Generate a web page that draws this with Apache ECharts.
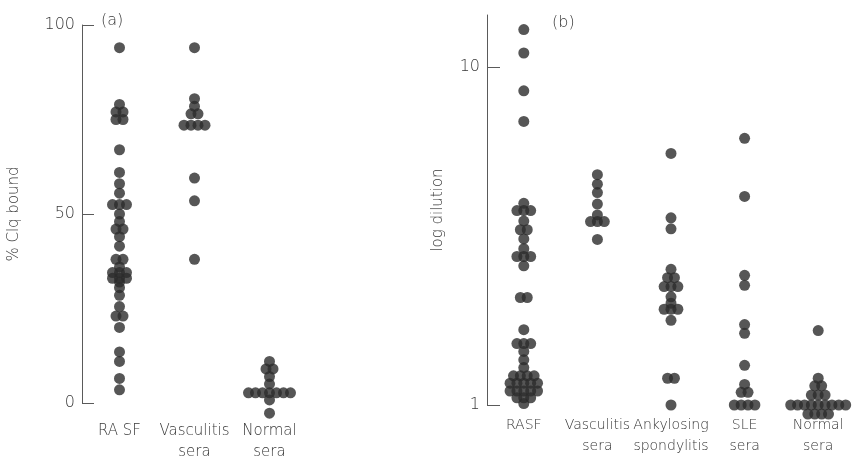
<!DOCTYPE html>
<html>
<head>
<meta charset="utf-8">
<script src="https://cdn.jsdelivr.net/npm/echarts@6/dist/echarts.min.js"></script>
<style>html,body{margin:0;padding:0;background:#fff}#c{width:855px;height:463px}</style>
</head>
<body>
<div id="c"></div>
<script>
// ---- Panel (a): % C1q bound ----
const catsA = ['RA SF', 'Vasculitis\nsera', 'Normal\nsera'];
const rasfA = [94, 79, 77, 77, 75, 75, 67, 61, 58, 55.5, 52.5, 52.5, 52.5, 50, 48, 46, 46, 44, 41.5,
  38, 38, 36, 34.5, 34.5, 34.5, 33, 33, 33, 32, 30.5, 28.5, 25.5, 23, 23, 20, 13.5, 11, 6.5, 3.5];
const vascA = [94, 80.5, 78.5, 76.5, 76.5, 73.5, 73.5, 73.5, 73.5, 59.5, 53.5, 38];
const normA = [11, 9, 9, 7, 5, 2.7, 2.7, 2.7, 2.7, 2.7, 2.7, 2.7, 0.8, -2.7];
const ticksA = [0, 50, 100];

// ---- Panel (b): log dilution ----
const catsB = ['RASF', 'Vasculitis\nsera', 'Ankylosing\nspondylitis', 'SLE\nsera', 'Normal\nsera'];
const rasfB = [12.9, 11.0, 8.5, 6.9, 3.95, 3.76, 3.76, 3.76, 3.5, 3.3, 3.3, 3.1, 2.9, 2.75, 2.75, 2.75, 2.58,
  2.08, 2.08, 1.67, 1.52, 1.52, 1.52, 1.44, 1.36, 1.29, 1.22, 1.22, 1.22, 1.22,
  1.16, 1.16, 1.16, 1.16, 1.16, 1.1, 1.1, 1.1, 1.1, 1.1, 1.05, 1.05, 1.05, 1.01];
const vascB = [4.8, 4.5, 4.25, 3.93, 3.65, 3.49, 3.49, 3.49, 3.09];
const ankB = [5.55, 3.58, 3.32, 2.52, 2.38, 2.38, 2.24, 2.24, 2.24, 2.09, 2.0, 1.92, 1.92, 1.92, 1.78, 1.2, 1.2, 1.0];
const sleB = [6.15, 4.14, 2.42, 2.26, 1.73, 1.63, 1.31, 1.15, 1.09, 1.09, 1.0, 1.0, 1.0, 1.0];
const normB = [1.66, 1.2, 1.14, 1.14, 1.07, 1.07, 1.07, 1.0, 1.0, 1.0, 1.0, 1.0, 1.0, 1.0, 1.0, 1.0,
  0.94, 0.94, 0.94, 0.94];
const ticksB = [1, 10];

const BAND = 75, STEP = 7, DOT = 11;
const FONT = '"DejaVu Sans", sans-serif';
const FW = 200;
const TXT = '#383838', DOTC = '#2c2c2c', LINE = '#5a5a5a';

// equal values are laid out as a centred horizontal row (dot-plot layout)
function swarm(values, cat) {
  const counts = new Map();
  values.forEach(v => counts.set(v, (counts.get(v) || 0) + 1));
  const out = [];
  counts.forEach((n, v) => {
    for (let i = 0; i < n; i++) out.push([cat + (i - (n - 1) / 2) * STEP / BAND, v]);
  });
  return out;
}

function dots(values, cat, xi, yi) {
  return {
    type: 'scatter', xAxisIndex: xi, yAxisIndex: yi, data: swarm(values, cat),
    symbol: 'circle', symbolSize: DOT, itemStyle: { color: DOTC }, clip: false, silent: true
  };
}

const catAxis = (grid, data, margin, size) => ({
  type: 'category', gridIndex: grid, data: data, boundaryGap: true,
  axisLine: { show: false }, axisTick: { show: false }, splitLine: { show: false },
  axisLabel: { margin: margin, fontSize: size, lineHeight: 21, color: TXT, fontFamily: FONT, fontWeight: FW, interval: 0 }
});

const chart = echarts.init(document.getElementById('c'), null, { renderer: 'canvas' });
chart.setOption({
  animation: false,
  backgroundColor: '#fff',
  title: [
    { text: '(a)', left: 96, top: 8, textStyle: { fontSize: 16, fontWeight: FW, color: TXT, fontFamily: FONT } },
    { text: '(b)', left: 547, top: 10, textStyle: { fontSize: 16, fontWeight: FW, color: TXT, fontFamily: FONT } }
  ],
  grid: [
    { left: 82, top: 25, width: 225, height: 378 },
    { left: 487, top: 15, width: 375, height: 390 }
  ],
  xAxis: [
    catAxis(0, catsA, 18, 15),
    { type: 'value', gridIndex: 0, min: -0.5, max: 2.5, show: false },
    catAxis(1, catsB, 10, 14),
    { type: 'value', gridIndex: 1, min: -0.5, max: 4.5, show: false }
  ],
  yAxis: [
    {
      type: 'value', gridIndex: 0, min: ticksA[0], max: ticksA[2], interval: 50,
      name: '% Clq bound', nameLocation: 'middle', nameGap: 60, nameRotate: 90,
      nameTextStyle: { fontSize: 15, color: TXT, fontFamily: FONT, fontWeight: FW },
      axisLine: { show: true, onZero: false, lineStyle: { color: LINE, width: 1 } },
      axisTick: { show: true, inside: true, length: 12, lineStyle: { color: LINE } },
      axisLabel: { fontSize: 16, color: TXT, fontFamily: FONT, fontWeight: FW, margin: 7 },
      splitLine: { show: false }
    },
    {
      type: 'log', logBase: 10, gridIndex: 1, min: 1, max: 14.25,
      name: 'log dilution', nameLocation: 'middle', nameGap: 41, nameRotate: 90,
      nameTextStyle: { fontSize: 15, color: TXT, fontFamily: FONT, fontWeight: FW },
      axisLine: { show: true, onZero: false, lineStyle: { color: LINE, width: 1 } },
      axisTick: { show: true, inside: true, length: 13, lineStyle: { color: LINE }, customValues: ticksB },
      axisLabel: { fontSize: 16, color: TXT, fontFamily: FONT, fontWeight: FW, margin: 7, customValues: ticksB },
      splitLine: { show: false }, minorTick: { show: false }
    }
  ],
  series: [
    dots(rasfA, 0, 1, 0), dots(vascA, 1, 1, 0), dots(normA, 2, 1, 0),
    dots(rasfB, 0, 3, 1), dots(vascB, 1, 3, 1), dots(ankB, 2, 3, 1), dots(sleB, 3, 3, 1), dots(normB, 4, 3, 1)
  ]
});
</script>
</body>
</html>
